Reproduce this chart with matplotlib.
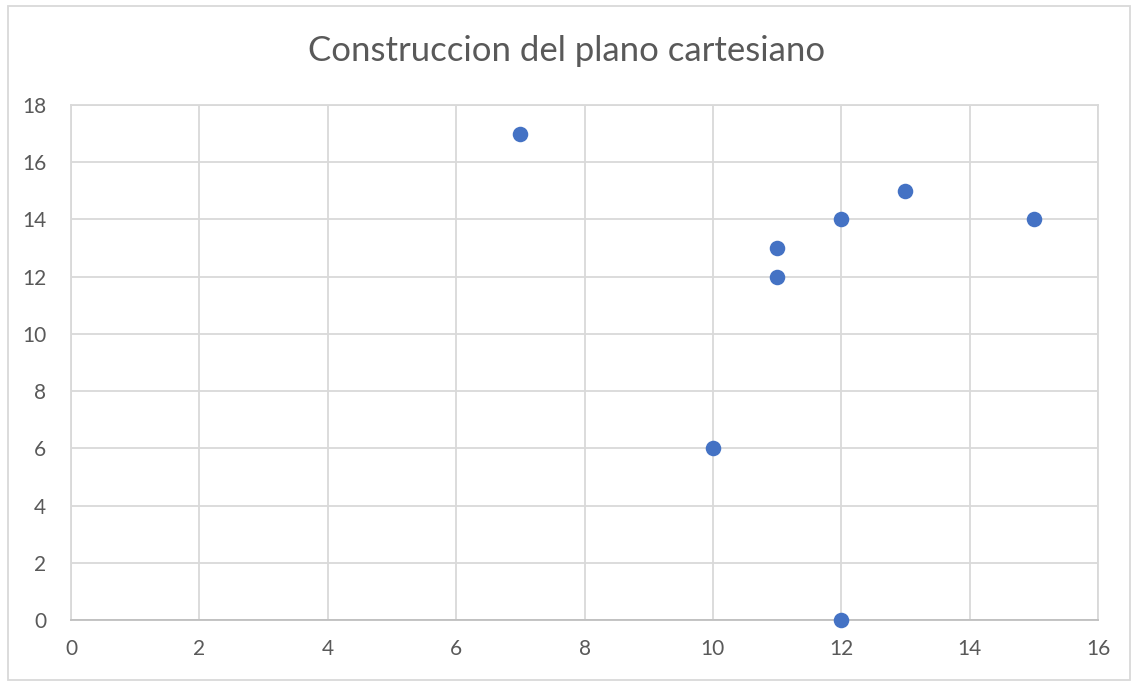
import matplotlib.pyplot as plt
from matplotlib.patches import Rectangle

x_vals = [7, 10, 11, 11, 12, 12, 13, 15]
y_vals = [17, 6, 13, 12, 14, 0, 15, 14]
x_ticks = [0, 2, 4, 6, 8, 10, 12, 14, 16]
y_ticks = [0, 2, 4, 6, 8, 10, 12, 14, 16, 18]
titulo = "Construccion del plano cartesiano"

plt.rcParams['font.family'] = ['Lato', 'DejaVu Sans']

fig = plt.figure(figsize=(11.33, 6.82), dpi=100)
ax = fig.add_axes([0.0627, 0.0909, 0.9064, 0.7551])

ax.scatter(x_vals, y_vals, s=125, color='#4472C4', zorder=3, linewidths=0, clip_on=False)

ax.set_xlim(0, 16)
ax.set_ylim(0, 18)
ax.set_xticks(x_ticks)
ax.set_yticks(y_ticks)
ax.grid(True, color='#D9D9D9', linewidth=1.3)
ax.set_axisbelow(True)
for lado in ['top', 'right', 'left']:
    ax.spines[lado].set_color('#D9D9D9')
    ax.spines[lado].set_linewidth(1.3)
ax.spines['bottom'].set_color('#BFBFBF')
ax.spines['bottom'].set_linewidth(1.3)
ax.tick_params(length=0, labelsize=15, labelcolor='#595959')
ax.tick_params(axis='x', pad=14)
ax.tick_params(axis='y', pad=18)

fig.text(0.5, 0.925, titulo, ha='center', va='center', fontsize=25, color='#595959')

fig.patches.append(Rectangle((0.007, 0.003), 0.99, 0.988, transform=fig.transFigure,
                             fill=False, edgecolor='#D9D9D9', linewidth=1.3))

fig.savefig("out.png", dpi=100)
